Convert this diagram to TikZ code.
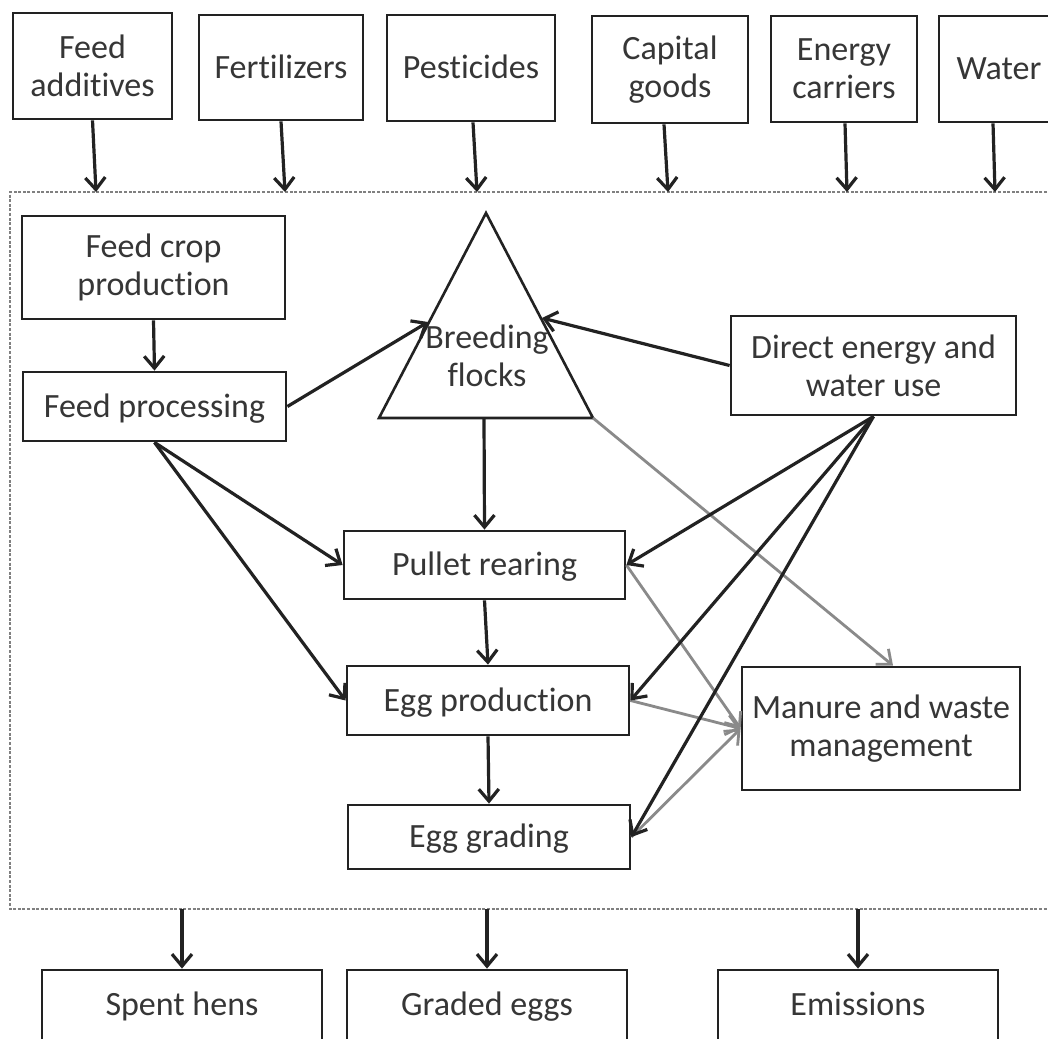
\documentclass[tikz,border=0pt]{standalone}
\usepackage{fontspec}
\setmainfont{Carlito}[Ligatures=NoCommon]
\usetikzlibrary{arrows.meta}
\definecolor{ln}{HTML}{222222}
\definecolor{tx}{HTML}{363636}
\definecolor{gr}{HTML}{8A8A8A}
\begin{document}
\begin{tikzpicture}[x=0.5pt,y=-0.5pt,
 box/.style={draw=ln,line width=1.4pt,fill=white,text=tx,align=center,inner sep=0pt,font=\fontsize{17}{19}\selectfont},
 one/.style={text height=14.6pt,text depth=3.7pt},
 lbl/.style={text=tx,align=center,inner sep=0pt,font=\fontsize{17}{19}\selectfont},
 arr/.style={draw=ln,line width=1.6pt,-{Straight Barb[length=6pt,width=10pt,line width=1.6pt]}},
 garr/.style={draw=gr,line width=1.4pt,-{Straight Barb[length=6pt,width=10pt,line width=1.4pt]}},
 sysb/.style={draw=gray,line width=0.6pt,dash pattern=on 1.5pt off 0.8pt},
]
\useasboundingbox (0,0) rectangle (1048,1038);
\clip (0,0) rectangle (1048,1038);
\fill[white] (0,0) rectangle (1048,1038);

% system boundary
\draw[sysb] (1070,192) -- (10,192) -- (10,909) -- (1070,909);

% top inputs
\node[box,minimum width=79.5pt,minimum height=53pt] (fa) at (92.5,66) {Feed\\additives};
\node[box,one,minimum width=82pt,minimum height=52.5pt] (fe) at (281,67.5) {Fertilizers};
\node[box,one,minimum width=84pt,minimum height=53pt] (pe) at (471,68) {Pesticides};
\node[box,minimum width=78pt,minimum height=53.5pt] (cg) at (670,69.5) {Capital\\goods};
\node[box,minimum width=73pt,minimum height=53pt] (ec) at (844,69) {Energy\\carriers};
\node[box,one,minimum width=60pt,minimum height=53pt] (wa) at (999,69) {Water};

\coordinate (b1) at (96,192);
\coordinate (b2) at (285,192);
\coordinate (b3) at (477,192);
\coordinate (b4) at (668,192);
\coordinate (b5) at (847,192);
\coordinate (b6) at (995,192);
\draw[arr] (fa.south) -- (b1);
\draw[arr] (fe.south) -- (b2);
\draw[arr] ([xshift=1pt]pe.south) -- (b3);
\draw[arr] ([xshift=-3pt]cg.south) -- (b4);
\draw[arr] ([xshift=0.5pt]ec.south) -- (b5);
\draw[arr] ([xshift=-3pt]wa.south) -- (b6);

% inner nodes
\node[box,minimum width=131.5pt,minimum height=51.5pt] (fcp) at (153.5,267.5) {Feed crop\\production};
\node[box,one,minimum width=131.5pt,minimum height=34.5pt] (fp) at (154.5,406.5) {Feed processing};
\node[box,minimum width=142.5pt,minimum height=49.5pt] (de) at (873.5,365.5) {Direct energy and\\water use};
\node[box,one,minimum width=140.5pt,minimum height=34pt] (pr) at (484.5,565) {Pullet rearing};
\node[box,one,minimum width=141pt,minimum height=34.5pt] (ep) at (488,700.5) {Egg production};
\node[box,one,minimum width=141pt,minimum height=32pt] (eg) at (489,837) {Egg grading};
\node[box,minimum width=139pt,minimum height=61.5pt] (mw) at (881,728.5) {Manure and waste\\management};

% breeding flocks triangle
\coordinate (ta) at (486,213);
\coordinate (tl) at (379,418);
\coordinate (tr) at (593,418);
\draw[draw=ln,line width=1.3pt,line join=miter] (ta) -- (tl) -- (tr) -- cycle;
\node[lbl] (bf) at (487,356) {Breeding\\flocks};
\coordinate (tin1) at (428,322);
\coordinate (tin2) at (542,318);
\coordinate (tb) at (484,418);

% bottom outputs
\node[box,one,minimum width=140pt,minimum height=35pt] (sh) at (182,1005) {Spent hens};
\node[box,one,minimum width=140pt,minimum height=35pt] (ge) at (487,1005) {Graded eggs};
\node[box,one,minimum width=140pt,minimum height=35pt] (em) at (858,1005) {Emissions};
\coordinate (o1) at (182,909);
\coordinate (o2) at (487,909);
\coordinate (o3) at (858,909);
\draw[arr] (o1) -- (sh.north);
\draw[arr] (o2) -- (ge.north);
\draw[arr] (o3) -- (em.north);

% gray flows to manure
\draw[garr] (tr) -- ([xshift=6pt]mw.north);
\draw[garr] (pr.east) -- (mw.west);
\draw[garr] (ep.east) -- (mw.west);
\draw[garr] (eg.east) -- (mw.west);

% black flows
\draw[arr] (fcp.south) -- (fp.north);
\draw[arr] (fp.east) -- (tin1);
\draw[arr] (de.west) -- (tin2);
\draw[arr] (tb) -- (pr.north);
\draw[arr] (fp.south) -- (pr.west);
\draw[arr] (fp.south) -- (ep.west);
\draw[arr] (de.south) -- (pr.east);
\draw[arr] (de.south) -- (ep.east);
\draw[arr] (de.south) -- (eg.east);
\draw[arr] (pr.south) -- (ep.north);
\draw[arr] (ep.south) -- (eg.north);
\end{tikzpicture}
\end{document}
